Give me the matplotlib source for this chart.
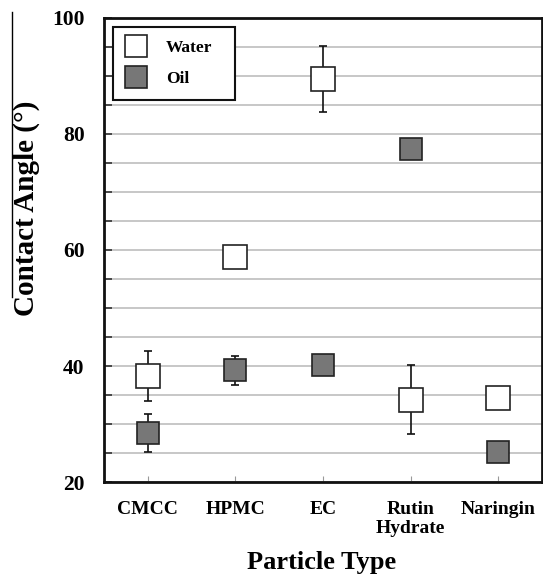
import matplotlib
matplotlib.use("Agg")
import matplotlib.pyplot as plt
from matplotlib.lines import Line2D
from matplotlib.ticker import MultipleLocator
import numpy as np

plt.rcParams['font.family'] = ['Liberation Serif', 'DejaVu Serif']
plt.rcParams['font.weight'] = 'bold'

# 데이터
categories = ['CMCC', 'HPMC', 'EC', 'Rutin\nHydrate', 'Naringin']
water_mean = [38.3, 58.8, 89.5, 34.2, 34.4]
water_err = [4.3, 0.0, 5.7, 6.0, 0.0]
oil_mean = [28.5, 39.3, 40.1, 77.4, 25.2]
oil_err = [3.3, 2.5, 0.0, 0.0, 0.0]

fig = plt.figure(figsize=(5.43, 5.81), dpi=100)
ax = fig.add_axes([104 / 543, 99 / 581, 438 / 543, 464 / 581])

x = np.arange(len(categories))

# 오차 막대
ax.errorbar(x, water_mean, yerr=water_err, fmt='none', ecolor='#111111',
            elinewidth=1.2, capsize=3, capthick=1.2, zorder=3)
ax.errorbar(x, oil_mean, yerr=oil_err, fmt='none', ecolor='#111111',
            elinewidth=1.2, capsize=3, capthick=1.2, zorder=3)

# 마커
ax.plot(x, water_mean, 's', ms=17, mfc='white', mec='#222222', mew=1.2,
        ls='none', zorder=4)
ax.plot(x, oil_mean, 's', ms=15.5, mfc='#777777', mec='#222222', mew=1.2,
        ls='none', zorder=4)

ax.set_xlim(-0.5, len(categories) - 0.5)
ax.set_ylim(20, 100)
ax.yaxis.set_major_locator(MultipleLocator(20))
ax.yaxis.set_minor_locator(MultipleLocator(5))
ax.grid(True, axis='y', which='both', color='#bdbdbd', lw=1.2, zorder=0)
ax.set_axisbelow(True)

ax.set_xticks(x)
ax.set_xticklabels(categories, fontsize=14, fontweight='bold', linespacing=1.1)
ax.tick_params(axis='x', direction='in', length=4, color='#999999', pad=14)
ax.tick_params(axis='y', which='both', direction='in', length=6,
               width=1.2, color='#333333', pad=14, labelsize=15.5)
for lab in ax.get_yticklabels():
    lab.set_fontweight('bold')

for s in ax.spines.values():
    s.set_linewidth(2)
    s.set_color('#111111')

# 축 제목
fig.text(322 / 543, 1 - 563 / 581, 'Particle Type', ha='center', va='center',
         fontsize=19, fontweight='bold')
fig.text(26 / 543, 1 - 208 / 581, 'Contact Angle (°)', ha='center',
         va='center', rotation=90, fontsize=21, fontweight='bold')

# 왼쪽 세로선 (원본 그림에 있는 선)
fig.add_artist(Line2D([12 / 543, 12 / 543], [1 - 12 / 581, 1 - 297 / 581],
                      transform=fig.transFigure, color='black', lw=1))

# 범례
handles = [
    Line2D([], [], marker='s', ls='none', ms=16.5, mfc='white',
           mec='#222222', mew=1.2),
    Line2D([], [], marker='s', ls='none', ms=16.5, mfc='#777777',
           mec='#222222', mew=1.2),
]
leg = ax.legend(handles, ['Water', 'Oil'], loc='upper left',
                bbox_to_anchor=(9 / 438, 1 - 70 / 464 - 9 / 464, 122 / 438, 70 / 464),
                mode='expand', borderaxespad=0, fontsize=12.5,
                handlelength=1.2, handletextpad=1.1, borderpad=0.75,
                labelspacing=0.85, fancybox=False, framealpha=1,
                edgecolor='#111111', prop={'weight': 'bold', 'size': 12.5})
leg.get_frame().set_linewidth(1.5)

fig.savefig('out.png', dpi=100)
